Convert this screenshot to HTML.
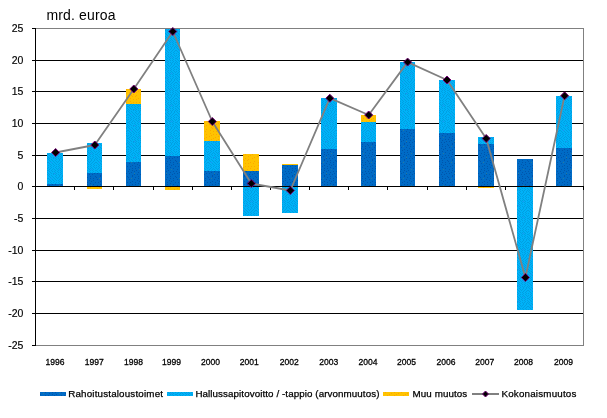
<!DOCTYPE html>
<html lang="fi"><head><meta charset="utf-8"><title>Kokonaismuutos</title>
<style>
html,body{margin:0;padding:0;background:#fff}
body{width:607px;height:418px;overflow:hidden}
svg{display:block}
text{font-family:"Liberation Sans",Arial,sans-serif;fill:#000}
.t{font-size:14px}
.y{font-size:10.5px;text-anchor:end;stroke:#000;stroke-width:.15px}
.x{font-size:9.9px;text-anchor:middle;stroke:#000;stroke-width:.3px}
.l{font-size:9.8px;stroke:#000;stroke-width:.25px}
</style></head><body>
<svg width="607" height="418" viewBox="0 0 607 418">
<rect x="0" y="0" width="607" height="418" fill="#fff"/>
<defs><pattern id="pd" width="16" height="16" patternUnits="userSpaceOnUse"><rect width="16" height="16" fill="#006BC6"/><path d="M4 0h1v1h-1zM10 0h1v1h-1zM15 0h1v1h-1zM0 1h1v1h-1zM7 1h1v1h-1zM3 2h1v1h-1zM10 2h1v1h-1zM13 2h1v1h-1zM1 3h1v1h-1zM6 3h1v1h-1zM9 4h1v1h-1zM13 4h1v1h-1zM4 5h1v1h-1zM11 5h1v1h-1zM2 6h1v1h-1zM7 6h1v1h-1zM15 6h1v1h-1zM10 7h1v1h-1zM4 8h1v1h-1zM7 8h1v1h-1zM13 8h1v1h-1zM1 9h1v1h-1zM11 9h1v1h-1zM4 10h1v1h-1zM8 10h1v1h-1zM0 11h1v1h-1zM6 11h1v1h-1zM13 11h1v1h-1zM3 12h1v1h-1zM10 12h1v1h-1zM1 13h1v1h-1zM14 13h1v1h-1zM6 14h1v1h-1zM9 14h1v1h-1zM12 14h1v1h-1zM4 15h1v1h-1z" fill="#0055AC"/><path d="M3 2h1v1h-1zM11 9h1v1h-1zM6 13h1v1h-1z" fill="#2A7A9A"/></pattern><pattern id="pl" width="16" height="16" patternUnits="userSpaceOnUse"><rect width="16" height="16" fill="#00B2F8"/><path d="M1 0h1v1h-1zM4 0h1v1h-1zM7 0h1v1h-1zM11 0h1v1h-1zM14 0h1v1h-1zM2 1h1v1h-1zM5 1h1v1h-1zM8 1h1v1h-1zM10 1h1v1h-1zM13 1h1v1h-1zM0 2h1v1h-1zM3 2h1v1h-1zM6 2h1v1h-1zM9 2h1v1h-1zM12 2h1v1h-1zM15 2h1v1h-1zM1 3h1v1h-1zM4 3h1v1h-1zM7 3h1v1h-1zM11 3h1v1h-1zM14 3h1v1h-1zM2 4h1v1h-1zM5 4h1v1h-1zM8 4h1v1h-1zM10 4h1v1h-1zM13 4h1v1h-1zM0 5h1v1h-1zM3 5h1v1h-1zM6 5h1v1h-1zM11 5h1v1h-1zM14 5h1v1h-1zM2 6h1v1h-1zM5 6h1v1h-1zM8 6h1v1h-1zM10 6h1v1h-1zM13 6h1v1h-1zM0 7h1v1h-1zM3 7h1v1h-1zM7 7h1v1h-1zM11 7h1v1h-1zM14 7h1v1h-1zM2 8h1v1h-1zM5 8h1v1h-1zM8 8h1v1h-1zM10 8h1v1h-1zM12 8h1v1h-1zM15 8h1v1h-1zM1 9h1v1h-1zM4 9h1v1h-1zM6 9h1v1h-1zM9 9h1v1h-1zM13 9h1v1h-1zM0 10h1v1h-1zM3 10h1v1h-1zM7 10h1v1h-1zM10 10h1v1h-1zM12 10h1v1h-1zM15 10h1v1h-1zM1 11h1v1h-1zM4 11h1v1h-1zM6 11h1v1h-1zM9 11h1v1h-1zM13 11h1v1h-1zM2 12h1v1h-1zM7 12h1v1h-1zM10 12h1v1h-1zM12 12h1v1h-1zM15 12h1v1h-1zM0 13h1v1h-1zM3 13h1v1h-1zM5 13h1v1h-1zM8 13h1v1h-1zM13 13h1v1h-1zM1 14h1v1h-1zM5 14h1v1h-1zM7 14h1v1h-1zM10 14h1v1h-1zM12 14h1v1h-1zM15 14h1v1h-1zM0 15h1v1h-1zM3 15h1v1h-1zM8 15h1v1h-1zM11 15h1v1h-1zM14 15h1v1h-1z" fill="#00A0E2"/><path d="M3 2h1v1h-1zM11 9h1v1h-1zM6 13h1v1h-1z" fill="#1E90F0"/></pattern><pattern id="py" width="16" height="16" patternUnits="userSpaceOnUse"><rect width="16" height="16" fill="#FFC300"/><path d="M4 0h1v1h-1zM7 0h1v1h-1zM14 1h1v1h-1zM2 2h1v1h-1zM10 2h1v1h-1zM5 3h1v1h-1zM8 3h1v1h-1zM13 3h1v1h-1zM2 5h1v1h-1zM5 6h1v1h-1zM8 6h1v1h-1zM11 6h1v1h-1zM14 6h1v1h-1zM3 7h1v1h-1zM1 8h1v1h-1zM10 8h1v1h-1zM7 9h1v1h-1zM14 9h1v1h-1zM5 10h1v1h-1zM12 10h1v1h-1zM3 11h1v1h-1zM10 11h1v1h-1zM1 12h1v1h-1zM8 12h1v1h-1zM14 13h1v1h-1zM5 14h1v1h-1zM12 14h1v1h-1zM3 15h1v1h-1zM8 15h1v1h-1z" fill="#FFA600"/></pattern></defs>
<g shape-rendering="crispEdges">
<rect x="35" y="28" width="549" height="1" fill="#808080"/>
<rect x="35" y="60" width="549" height="1" fill="#000"/>
<rect x="35" y="91" width="549" height="1" fill="#000"/>
<rect x="35" y="123" width="549" height="1" fill="#000"/>
<rect x="35" y="155" width="549" height="1" fill="#000"/>
<rect x="35" y="218" width="549" height="1" fill="#000"/>
<rect x="35" y="250" width="549" height="1" fill="#000"/>
<rect x="35" y="281" width="549" height="1" fill="#000"/>
<rect x="35" y="313" width="549" height="1" fill="#000"/>
<rect x="35" y="345" width="549" height="1" fill="#808080"/>
<rect x="583" y="28" width="1" height="318" fill="#808080"/>
<rect x="47" y="153" width="16" height="31" fill="url(#pl)"/>
<rect x="47" y="184" width="16" height="3" fill="url(#pd)"/>
<rect x="87" y="143" width="15" height="30" fill="url(#pl)"/>
<rect x="87" y="173" width="15" height="14" fill="url(#pd)"/>
<rect x="87" y="187" width="15" height="2" fill="url(#py)"/>
<rect x="126" y="89" width="15" height="15" fill="url(#py)"/>
<rect x="126" y="104" width="15" height="58" fill="url(#pl)"/>
<rect x="126" y="162" width="15" height="25" fill="url(#pd)"/>
<rect x="165" y="29" width="15" height="127" fill="url(#pl)"/>
<rect x="165" y="156" width="15" height="31" fill="url(#pd)"/>
<rect x="165" y="187" width="15" height="3" fill="url(#py)"/>
<rect x="204" y="121" width="16" height="20" fill="url(#py)"/>
<rect x="204" y="141" width="16" height="30" fill="url(#pl)"/>
<rect x="204" y="171" width="16" height="16" fill="url(#pd)"/>
<rect x="243" y="154" width="16" height="17" fill="url(#py)"/>
<rect x="243" y="171" width="16" height="16" fill="url(#pd)"/>
<rect x="243" y="187" width="16" height="29" fill="url(#pl)"/>
<rect x="282" y="164" width="16" height="1" fill="url(#py)"/>
<rect x="282" y="165" width="16" height="22" fill="url(#pd)"/>
<rect x="282" y="187" width="16" height="26" fill="url(#pl)"/>
<rect x="321" y="98" width="16" height="51" fill="url(#pl)"/>
<rect x="321" y="149" width="16" height="38" fill="url(#pd)"/>
<rect x="361" y="115" width="15" height="7" fill="url(#py)"/>
<rect x="361" y="122" width="15" height="20" fill="url(#pl)"/>
<rect x="361" y="142" width="15" height="45" fill="url(#pd)"/>
<rect x="400" y="62" width="15" height="67" fill="url(#pl)"/>
<rect x="400" y="129" width="15" height="58" fill="url(#pd)"/>
<rect x="439" y="80" width="16" height="53" fill="url(#pl)"/>
<rect x="439" y="133" width="16" height="54" fill="url(#pd)"/>
<rect x="478" y="137" width="16" height="7" fill="url(#pl)"/>
<rect x="478" y="144" width="16" height="43" fill="url(#pd)"/>
<rect x="478" y="187" width="16" height="1" fill="url(#py)"/>
<rect x="517" y="159" width="16" height="28" fill="url(#pd)"/>
<rect x="517" y="187" width="16" height="123" fill="url(#pl)"/>
<rect x="556" y="96" width="16" height="52" fill="url(#pl)"/>
<rect x="556" y="148" width="16" height="39" fill="url(#pd)"/>
<rect x="35" y="28" width="1" height="318" fill="#000"/>
<rect x="35" y="186" width="549" height="1" fill="#000"/>
<rect x="32" y="28" width="3" height="1" fill="#000"/>
<rect x="32" y="60" width="3" height="1" fill="#000"/>
<rect x="32" y="91" width="3" height="1" fill="#000"/>
<rect x="32" y="123" width="3" height="1" fill="#000"/>
<rect x="32" y="155" width="3" height="1" fill="#000"/>
<rect x="32" y="186" width="3" height="1" fill="#000"/>
<rect x="32" y="218" width="3" height="1" fill="#000"/>
<rect x="32" y="250" width="3" height="1" fill="#000"/>
<rect x="32" y="281" width="3" height="1" fill="#000"/>
<rect x="32" y="313" width="3" height="1" fill="#000"/>
<rect x="32" y="345" width="3" height="1" fill="#000"/>
<rect x="35" y="186" width="1" height="4" fill="#000"/>
<rect x="74" y="186" width="1" height="4" fill="#000"/>
<rect x="113" y="186" width="1" height="4" fill="#000"/>
<rect x="153" y="186" width="1" height="4" fill="#000"/>
<rect x="192" y="186" width="1" height="4" fill="#000"/>
<rect x="231" y="186" width="1" height="4" fill="#000"/>
<rect x="270" y="186" width="1" height="4" fill="#000"/>
<rect x="309" y="186" width="1" height="4" fill="#000"/>
<rect x="348" y="186" width="1" height="4" fill="#000"/>
<rect x="387" y="186" width="1" height="4" fill="#000"/>
<rect x="427" y="186" width="1" height="4" fill="#000"/>
<rect x="466" y="186" width="1" height="4" fill="#000"/>
<rect x="505" y="186" width="1" height="4" fill="#000"/>
<rect x="544" y="186" width="1" height="4" fill="#000"/>
<rect x="583" y="186" width="1" height="4" fill="#000"/>
</g>
<polyline points="55.6,152.5 94.8,145 133.8,89 172.8,31.5 212.3,121.5 251.3,183.5 290.3,190.5 329.8,98.2 368.7,115 407.6,62.1 447,80 486.2,138.5 525.4,277.5 564.6,95.8" fill="none" stroke="#808080" stroke-width="1.8" stroke-linejoin="round"/>
<path d="M51.6 152.5L55.6 148.5L59.6 152.5L55.6 156.5Z" fill="#000" stroke="#720072" stroke-width="1"/>
<path d="M90.8 145L94.8 141L98.8 145L94.8 149Z" fill="#000" stroke="#720072" stroke-width="1"/>
<path d="M129.8 89L133.8 85L137.8 89L133.8 93Z" fill="#000" stroke="#720072" stroke-width="1"/>
<path d="M168.8 31.5L172.8 27.5L176.8 31.5L172.8 35.5Z" fill="#000" stroke="#720072" stroke-width="1"/>
<path d="M208.3 121.5L212.3 117.5L216.3 121.5L212.3 125.5Z" fill="#000" stroke="#720072" stroke-width="1"/>
<path d="M247.3 183.5L251.3 179.5L255.3 183.5L251.3 187.5Z" fill="#000" stroke="#720072" stroke-width="1"/>
<path d="M286.3 190.5L290.3 186.5L294.3 190.5L290.3 194.5Z" fill="#000" stroke="#720072" stroke-width="1"/>
<path d="M325.8 98.2L329.8 94.2L333.8 98.2L329.8 102.2Z" fill="#000" stroke="#720072" stroke-width="1"/>
<path d="M364.7 115L368.7 111L372.7 115L368.7 119Z" fill="#000" stroke="#720072" stroke-width="1"/>
<path d="M403.6 62.1L407.6 58.1L411.6 62.1L407.6 66.1Z" fill="#000" stroke="#720072" stroke-width="1"/>
<path d="M443 80L447 76L451 80L447 84Z" fill="#000" stroke="#720072" stroke-width="1"/>
<path d="M482.2 138.5L486.2 134.5L490.2 138.5L486.2 142.5Z" fill="#000" stroke="#720072" stroke-width="1"/>
<path d="M521.4 277.5L525.4 273.5L529.4 277.5L525.4 281.5Z" fill="#000" stroke="#720072" stroke-width="1"/>
<path d="M560.6 95.8L564.6 91.8L568.6 95.8L564.6 99.8Z" fill="#000" stroke="#720072" stroke-width="1"/>
<text class="t" x="46.5" y="19.8" textLength="69" lengthAdjust="spacing">mrd. euroa</text>
<text class="y" x="23.4" y="32">25</text>
<text class="y" x="23.4" y="64">20</text>
<text class="y" x="23.4" y="95">15</text>
<text class="y" x="23.4" y="127">10</text>
<text class="y" x="23.4" y="159">5</text>
<text class="y" x="23.4" y="190">0</text>
<text class="y" x="23.4" y="222">-5</text>
<text class="y" x="23.4" y="254">-10</text>
<text class="y" x="23.4" y="285">-15</text>
<text class="y" x="23.4" y="317">-20</text>
<text class="y" x="23.4" y="349">-25</text>
<text class="x" x="55.1" y="365" textLength="19" lengthAdjust="spacingAndGlyphs">1996</text>
<text class="x" x="94.2" y="365" textLength="19" lengthAdjust="spacingAndGlyphs">1997</text>
<text class="x" x="133.4" y="365" textLength="19" lengthAdjust="spacingAndGlyphs">1998</text>
<text class="x" x="171.5" y="365" textLength="19" lengthAdjust="spacingAndGlyphs">1999</text>
<text class="x" x="210.6" y="365" textLength="19" lengthAdjust="spacingAndGlyphs">2000</text>
<text class="x" x="249.3" y="365" textLength="19" lengthAdjust="spacingAndGlyphs">2001</text>
<text class="x" x="289.3" y="365" textLength="19" lengthAdjust="spacingAndGlyphs">2002</text>
<text class="x" x="328.8" y="365" textLength="19" lengthAdjust="spacingAndGlyphs">2003</text>
<text class="x" x="368.0" y="365" textLength="19" lengthAdjust="spacingAndGlyphs">2004</text>
<text class="x" x="406.6" y="365" textLength="19" lengthAdjust="spacingAndGlyphs">2005</text>
<text class="x" x="446.0" y="365" textLength="19" lengthAdjust="spacingAndGlyphs">2006</text>
<text class="x" x="484.8" y="365" textLength="19" lengthAdjust="spacingAndGlyphs">2007</text>
<text class="x" x="523.4" y="365" textLength="19" lengthAdjust="spacingAndGlyphs">2008</text>
<text class="x" x="563.4" y="365" textLength="19" lengthAdjust="spacingAndGlyphs">2009</text>
<rect x="40" y="392" width="26" height="4" fill="url(#pd)" shape-rendering="crispEdges"/>
<text class="l" x="68.2" y="397" textLength="94.8" lengthAdjust="spacing">Rahoitustaloustoimet</text>
<rect x="167" y="392" width="26" height="4" fill="url(#pl)" shape-rendering="crispEdges"/>
<text class="l" x="195.4" y="397" textLength="184" lengthAdjust="spacing">Hallussapitovoitto / -tappio (arvonmuutos)</text>
<rect x="383" y="392" width="26" height="4" fill="url(#py)" shape-rendering="crispEdges"/>
<text class="l" x="412.6" y="397" textLength="54.6" lengthAdjust="spacing">Muu muutos</text>
<rect x="472" y="393" width="27" height="2" fill="#808080" shape-rendering="crispEdges"/>
<path d="M482.5 394L485.5 391L488.5 394L485.5 397Z" fill="#000" stroke="#720072" stroke-width="1"/>
<text class="l" x="501.4" y="397" textLength="75" lengthAdjust="spacing">Kokonaismuutos</text>
</svg>
</body></html>
